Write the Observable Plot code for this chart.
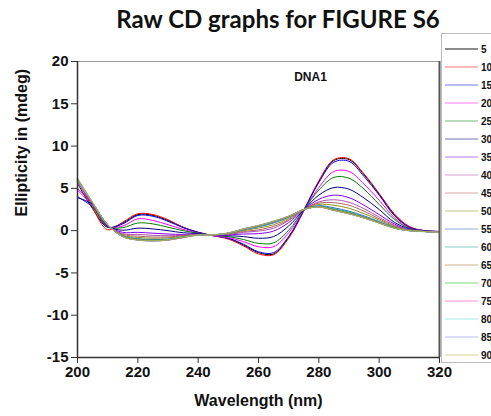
<!DOCTYPE html>
<html><head><meta charset="utf-8">
<script src="https://cdn.jsdelivr.net/npm/d3@7"></script>
<script src="https://cdn.jsdelivr.net/npm/@observablehq/plot@0.6"></script>
<style>
body{margin:0;background:#fff;}
#wrap{position:relative;width:491px;height:416px;overflow:hidden;font-family:"Liberation Sans",Arial,sans-serif;}
#title{position:absolute;left:0;top:4px;width:556px;text-align:center;font-family:Lato,sans-serif;font-weight:bold;font-size:24px;line-height:30px;color:#111;}
#chart{position:absolute;left:0;top:37px;}
#legend{position:absolute;left:441px;top:33px;}
</style></head>
<body><div id="wrap"><div id="title">Raw CD graphs for FIGURE S6</div><div id="chart"></div><div id="legend"></div></div>
<script>
const wavelengths = [200,205,210,215,220,225,230,235,240,245,250,255,260,265,270,275,280,285,290,295,300,305,310,315,320];
const temps = [5,10,15,20,25,30,35,40,45,50,55,60,65,70,75,80,85,90];
const colors = ["#000000","#ff0000","#0000ff","#ff00ff","#008000","#000080","#8000ff","#b050b0","#b06060","#909020","#3070c0","#20a0a0","#b07030","#00c000","#ff3399","#60d0e0","#8080e0","#b0b040"];
const xTicks = [200,220,240,260,280,300,320];
const yTicks = [-15,-10,-5,0,5,10,15,20];
const xDomain = [200,320];
const yDomain = [-15,20];

const s5  = [5.6,2.6,0.4,0.9,1.9,1.8,1.2,0.4,-0.2,-0.6,-0.9,-1.7,-2.6,-2.75,-0.8,2.4,5.8,8.3,8.4,6.6,4.3,1.9,0.4,0.0,-0.1];
const s10 = [6.1,2.7,0.1,1.0,2.0,1.9,1.3,0.4,-0.2,-0.6,-1.0,-1.8,-2.75,-2.85,-0.9,2.3,5.9,8.4,8.5,6.7,4.4,2.0,0.5,0.0,-0.1];
const s15 = [4.0,2.8,0.4,0.8,1.8,1.7,1.1,0.35,-0.2,-0.6,-0.9,-1.6,-2.5,-2.6,-0.7,2.4,5.7,8.1,8.2,6.4,4.2,1.8,0.4,0.0,-0.1];
const s20 = [4.8,2.9,0.5,0.55,1.4,1.2,0.7,0.15,-0.3,-0.6,-0.8,-1.3,-1.9,-1.9,-0.25,2.4,5.1,7.0,7.0,5.5,3.6,1.55,0.3,0.0,-0.1];
const s25 = [5.9,3.0,0.5,0.35,0.9,0.8,0.4,0.0,-0.3,-0.55,-0.7,-1.05,-1.5,-1.45,0.05,2.45,4.8,6.3,6.2,4.9,3.1,1.35,0.25,0.0,-0.15];
const s30 = [3.9,3.1,0.55,0.05,0.3,0.2,0.0,-0.25,-0.35,-0.55,-0.6,-0.7,-0.9,-0.7,0.55,2.45,4.2,5.1,4.9,3.85,2.5,1.0,0.2,-0.05,-0.15];
const s35 = [5.0,3.2,0.6,-0.2,-0.2,-0.3,-0.4,-0.45,-0.4,-0.55,-0.5,-0.4,-0.35,-0.05,0.95,2.5,3.7,4.2,3.9,3.0,1.9,0.8,0.1,-0.05,-0.2];
const s40 = [5.6,3.2,0.65,-0.35,-0.45,-0.55,-0.6,-0.55,-0.45,-0.5,-0.45,-0.2,-0.05,0.3,1.2,2.5,3.4,3.65,3.35,2.6,1.6,0.65,0.1,-0.1,-0.2];
const s45 = [5.8,3.2,0.65,-0.45,-0.65,-0.75,-0.75,-0.6,-0.45,-0.5,-0.4,-0.1,0.1,0.5,1.3,2.5,3.25,3.3,3.0,2.3,1.4,0.55,0.05,-0.1,-0.2];
const s50 = [6.0,3.25,0.65,-0.55,-0.8,-0.9,-0.85,-0.7,-0.5,-0.5,-0.35,0.0,0.3,0.7,1.45,2.5,3.1,3.0,2.65,2.0,1.25,0.45,0.05,-0.1,-0.2];
const s55 = [6.1,3.3,0.7,-0.62,-0.95,-1.05,-1.0,-0.75,-0.5,-0.5,-0.33,0.1,0.45,0.9,1.58,2.5,2.95,2.7,2.3,1.75,1.07,0.38,0.02,-0.1,-0.2];
const s60 = [5.9,3.2,0.72,-0.65,-1.0,-1.12,-1.05,-0.78,-0.5,-0.48,-0.3,0.15,0.5,1.0,1.62,2.48,2.88,2.58,2.2,1.65,1.0,0.35,0.0,-0.1,-0.2];
const s65 = [6.2,3.35,0.68,-0.68,-1.05,-1.15,-1.08,-0.8,-0.52,-0.5,-0.3,0.18,0.55,1.05,1.65,2.5,2.85,2.5,2.1,1.58,0.95,0.32,0.0,-0.12,-0.2];
const s70 = [6.0,3.3,0.7,-0.7,-1.08,-1.18,-1.1,-0.8,-0.5,-0.5,-0.3,0.2,0.58,1.08,1.68,2.52,2.82,2.45,2.05,1.52,0.92,0.3,0.0,-0.1,-0.2];
const s75 = [5.7,3.25,0.72,-0.72,-1.1,-1.2,-1.12,-0.82,-0.5,-0.5,-0.28,0.2,0.6,1.1,1.7,2.5,2.8,2.4,2.0,1.5,0.9,0.3,0.0,-0.1,-0.2];
const s80 = [6.1,3.35,0.7,-0.72,-1.12,-1.22,-1.1,-0.8,-0.52,-0.48,-0.3,0.22,0.6,1.12,1.7,2.48,2.78,2.38,1.98,1.48,0.88,0.28,-0.02,-0.12,-0.2];
const s85 = [5.8,3.3,0.7,-0.7,-1.12,-1.22,-1.12,-0.82,-0.5,-0.5,-0.3,0.2,0.62,1.1,1.72,2.5,2.8,2.4,2.0,1.5,0.9,0.3,0.0,-0.1,-0.2];
const s90 = [6.0,3.3,0.7,-0.7,-1.1,-1.2,-1.1,-0.8,-0.5,-0.5,-0.3,0.2,0.6,1.1,1.7,2.5,2.8,2.4,2.0,1.5,0.9,0.3,0.0,-0.1,-0.2];
const seriesList = [s5,s10,s15,s20,s25,s30,s35,s40,s45,s50,s55,s60,s65,s70,s75,s80,s85,s90];

const rows = [];
seriesList.forEach((s, i) => s.forEach((v, j) => rows.push({T: temps[i], wl: wavelengths[j], v})));

const bold = {fontWeight: "bold", fill: "#111"};
const chart = Plot.plot({
  width: 491, height: 379,
  marginLeft: 77, marginRight: 52, marginTop: 24, marginBottom: 59,
  style: {fontFamily: "'Liberation Sans', Arial, sans-serif", background: "#fff"},
  x: {domain: xDomain},
  y: {domain: yDomain},
  color: {domain: temps, range: colors},
  marks: [
    Plot.line(rows, {x: "wl", y: "v", z: "T", stroke: "T", strokeWidth: 1, curve: "catmull-rom"}),
    Plot.ruleY([yDomain[1]], {stroke: "#999", strokeWidth: 1.2}),
    Plot.ruleX([xDomain[1]], {stroke: "#555", strokeWidth: 2}),
    Plot.ruleX([xDomain[0]], {stroke: "#333", strokeWidth: 1.5}),
    Plot.ruleY([yDomain[0]], {stroke: "#333", strokeWidth: 1.5}),
    Plot.axisX({ticks: xTicks, tickSize: 6, tickPadding: 3, fontSize: 15, ...bold, stroke: "#333", label: null, tickFormat: d => d}),
    Plot.axisY({ticks: yTicks, tickSize: 6, tickPadding: 3, fontSize: 15, ...bold, stroke: "#333", label: null, tickFormat: d => d}),
    Plot.text(["Wavelength (nm)"], {frameAnchor: "bottom", dy: 48, fontSize: 16, ...bold}),
    Plot.text(["Ellipticity in (mdeg)"], {frameAnchor: "left", rotate: -90, dx: -56, dy: 7, fontSize: 16, ...bold}),
    Plot.text(["DNA1"], {frameAnchor: "top", dx: 52, dy: 11, fontSize: 12, ...bold})
  ]
});
document.getElementById("chart").appendChild(chart);

const lg = d3.select("#legend").append("svg").attr("width", 50).attr("height", 331).style("display", "block");
lg.append("rect").attr("x", 0.5).attr("y", 0.5).attr("width", 60).attr("height", 329)
  .attr("fill", "#fff").attr("stroke", "#bbb");
temps.forEach((t, i) => {
  const y = 16 + i * 18;
  lg.append("path").attr("d", `M4,${y}H37`).attr("fill", "none")
    .style("stroke", colors[i]).style("stroke-width", "1.2px").style("opacity", i === 0 ? 0.9 : 0.55);
  lg.append("text").attr("x", 40).attr("y", y + 3.5).text(t)
    .attr("font-family", "'Liberation Sans', Arial, sans-serif").attr("font-size", 10)
    .attr("font-weight", "bold").attr("fill", "#111");
});
</script></body></html>
